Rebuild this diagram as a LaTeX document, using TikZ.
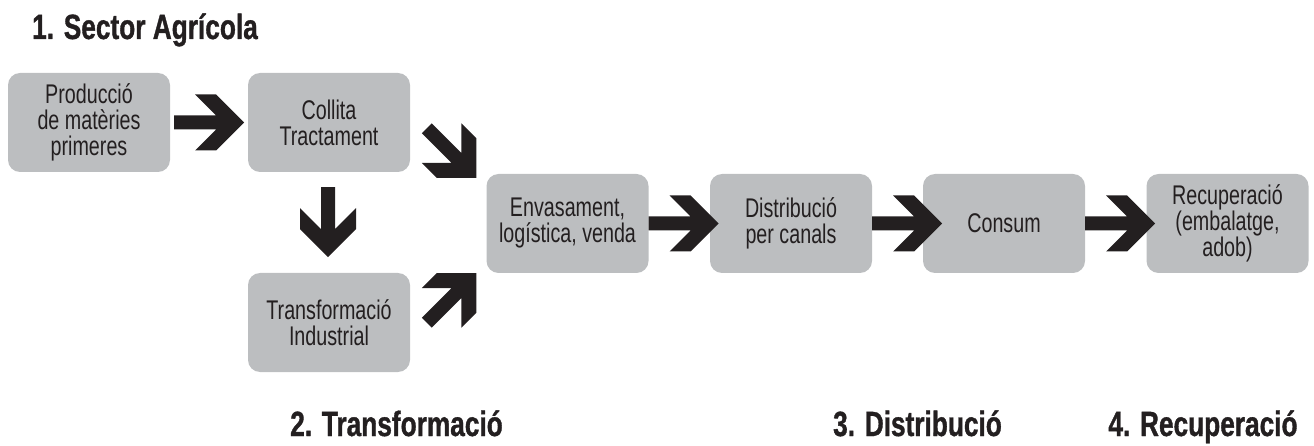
\documentclass[tikz,border=0pt]{standalone}
\usepackage{fontspec}
\setmainfont{Liberation Sans}[FakeStretch=0.73]
\newfontfamily\headfont{Liberation Sans}[FakeStretch=0.75, BoldFeatures={FakeBold=1}]
\usetikzlibrary{calc}
\definecolor{boxgray}{HTML}{BCBEC0}
\definecolor{ink}{HTML}{231F20}
\tikzset{
  stage/.style={fill=boxgray, draw=none, rounded corners=12pt,
    minimum width=162pt, minimum height=99pt, inner sep=0pt,
    align=center, text=ink, font=\fontsize{27}{26}\selectfont},
  heading/.style={text=ink, inner sep=0pt,
    font=\headfont\bfseries\fontsize{35}{35}\selectfont},
  fatarrow/.pic={
    \fill[ink] (0,7) -- (42,7) -- (21,28) -- (42,28) -- (70,0)
      -- (42,-28) -- (21,-28) -- (42,-7) -- (0,-7) -- cycle;
  }
}
\begin{document}
\begin{tikzpicture}[x=1pt,y=-1pt]
\useasboundingbox (0,0) rectangle (1314,446);

\node[heading, anchor=base west] (t1) at (32,39) {1. Sector Agrícola};
\node[heading, anchor=base] (t2) at (396.5,436) {2. Transformació};
\node[heading, anchor=base] (t3) at (917.5,436) {3. Distribució};
\node[heading, anchor=base] (t4) at (1203,436) {4. Recuperació};

\node[stage] (b1) at (89,122.5) {Producció\\de matèries\\primeres};
\node[stage] (b2) at (329,122.5) {Collita\\Tractament};
\node[stage] (b3) at (329,322.5) {Transformació\\Industrial};
\node[stage] (b4) at (567.5,223.5) {Envasament,\\logística, venda};
\node[stage] (b5) at (791,223.5) {Distribució\\per canals};
\node[stage] (b6) at (1004,223.5) {Consum};
\node[stage] (b7) at (1227.5,223.5) {Recuperació\\(embalatge,\\adob)};

\pic at ($(b1.east)+(4,0)$) {fatarrow};
\pic[rotate=-90] at ($(b2.south)+(-1,15)$) {fatarrow};
\pic[rotate=-45] at ($(b4.north west)+(-59.5,-45.5)$) {fatarrow};
\pic[rotate=45] at ($(b4.south west)+(-59.5,49.5)$) {fatarrow};
\pic at (b4.east) {fatarrow};
\pic at (b5.east) {fatarrow};
\pic at (b6.east) {fatarrow};
\end{tikzpicture}
\end{document}
